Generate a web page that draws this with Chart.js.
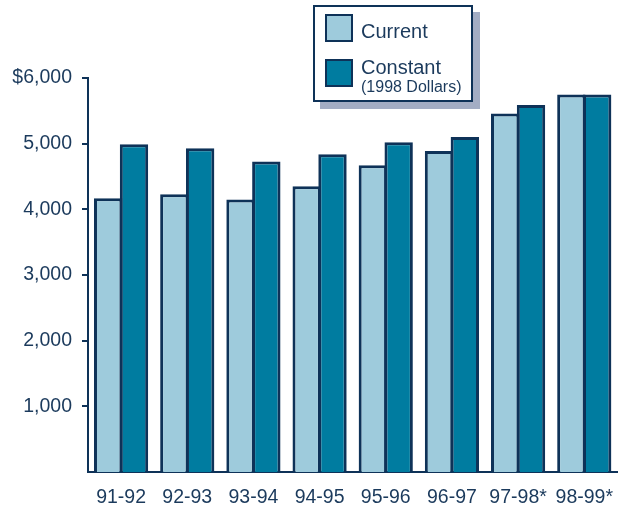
<!DOCTYPE html>
<html>
<head>
<meta charset="utf-8">
<script src="https://cdn.jsdelivr.net/npm/chart.js@4"></script>
<style>
  body { margin: 0; background: #fff; }
  .wrap { position: relative; width: 619px; height: 506px; }
  .legend {
    position: absolute; left: 313px; top: 5px; width: 156px; height: 93px;
    border: 2px solid #0e3258; background: #fff;
    box-shadow: 7px 7px 0 #a3adc4;
    font-family: "Liberation Sans", Arial, sans-serif; color: #1b3a5c;
  }
  .sw { position: absolute; left: 10px; width: 24px; height: 24px; border: 2px solid #0e3258; }
  .lbl { position: absolute; left: 46px; font-size: 20px; line-height: 20px; }
  .sub { position: absolute; left: 46px; font-size: 16px; line-height: 16px; }
</style>
</head>
<body>
<div class="wrap">
  <canvas id="myChart" width="619" height="506"></canvas>
  <div class="legend">
    <div class="sw" id="sw0" style="top: 7px"></div>
    <div class="lbl" id="lb0" style="top: 14px"></div>
    <div class="sw" id="sw1" style="top: 52px"></div>
    <div class="lbl" id="lb1" style="top: 50px"></div>
    <div class="sub" style="top: 72px">(1998 Dollars)</div>
  </div>
</div>
<script>
// data
const years = ['91-92', '92-93', '93-94', '94-95', '95-96', '96-97', '97-98*', '98-99*'];
const current = [4170, 4230, 4150, 4350, 4670, 4890, 5460, 5750];
const constant = [4990, 4930, 4730, 4840, 5020, 5100, 5590, 5750];
const yTicks = [1000, 2000, 3000, 4000, 5000, 6000];

const navy = '#0e3258';
const textColor = '#1b3a5c';
const colors = ['#9ecbdc', '#007ca0'];

const data = {
  labels: years,
  datasets: [
    { label: 'Current', data: current, backgroundColor: colors[0] },
    { label: 'Constant', data: constant, backgroundColor: colors[1] }
  ]
};
// bars slightly overlap so neighbours share one border line
data.datasets.forEach(d => {
  d.borderColor = navy;
  d.borderWidth = 3;
  d.borderSkipped = 'bottom';
  d.barPercentage = 1.1;
  d.categoryPercentage = 0.78;
});

const font = { family: '"Liberation Sans", Arial, sans-serif', size: 19.5 };

const config = {
  type: 'bar',
  data,
  options: {
    responsive: false,
    animation: false,
    layout: { padding: { top: 78, right: 0, left: 0, bottom: 0 } },
    plugins: { legend: { display: false }, tooltip: { enabled: false } },
    scales: {
      x: {
        grid: { display: false },
        border: { display: true, color: navy, width: 2 },
        ticks: { color: textColor, font, padding: 6, maxRotation: 0 },
        afterFit: s => { s.height = 34; }
      },
      y: {
        min: 0,
        max: 6000,
        afterBuildTicks: s => { s.ticks = yTicks.map(v => ({ value: v })); },
        grid: { drawOnChartArea: false, drawTicks: true, tickLength: 6, color: navy, lineWidth: 2 },
        border: { display: true, color: navy, width: 2 },
        ticks: {
          color: textColor, font, padding: 10,
          callback: v => (v === 6000 ? '$' : '') + v.toLocaleString('en-US')
        },
        afterFit: s => { s.width = 88; }
      }
    }
  }
};

const myChart = new Chart(document.getElementById('myChart'), config);

// legend from the datasets
data.datasets.forEach((d, i) => {
  document.getElementById('sw' + i).style.background = d.backgroundColor;
  document.getElementById('lb' + i).textContent = d.label;
});
</script>
</body>
</html>
